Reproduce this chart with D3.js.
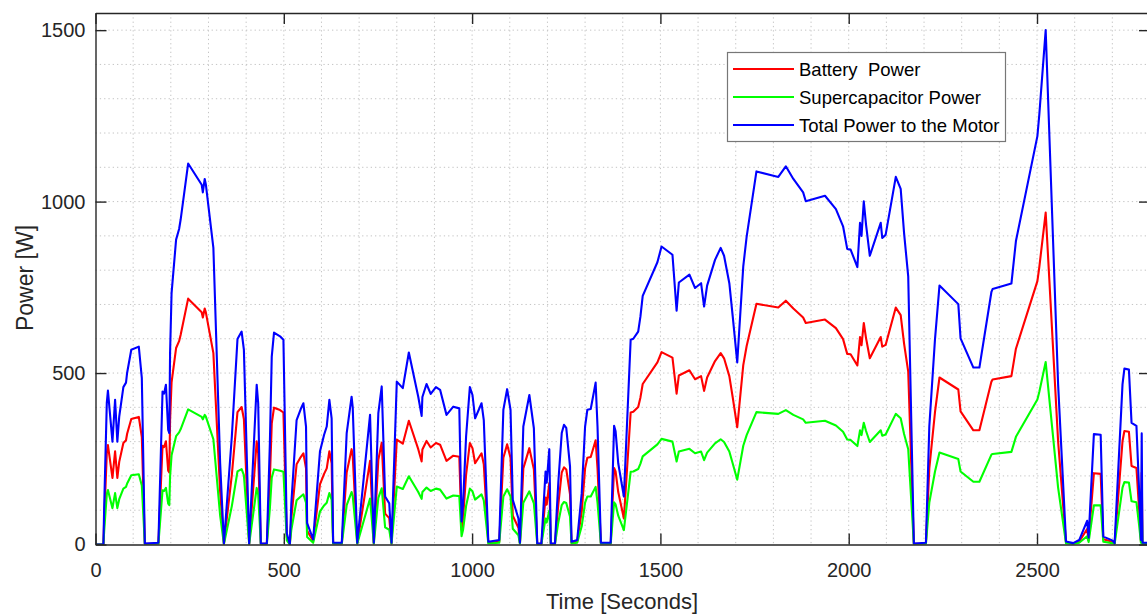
<!DOCTYPE html>
<html>
<head>
<meta charset="utf-8">
<script src="https://cdn.jsdelivr.net/npm/d3@7"></script>
<style>
  body { margin: 0; background: #fff; }
  text { font-family: "Liberation Sans", Arial, sans-serif; }
</style>
</head>
<body>
<div id="chart"></div>
<script>
// time samples (seconds) shared by all three curves
var timeSec = [0, 21, 23, 30, 33, 45, 52, 58, 63, 74, 81, 84, 95, 115, 123, 131, 167, 178, 182, 187,
  193, 196, 198, 202, 214, 222, 226, 246, 282, 285, 290, 293, 313, 331, 341, 362, 377, 388, 394, 408,
  428, 432, 439, 455, 463, 468, 474, 490, 499, 508, 516, 520, 534, 545, 552, 559, 562, 578, 596, 607,
  614, 621, 627, 631, 654, 667, 680, 683, 695, 729, 739, 751, 760, 769, 780, 786, 800, 816, 832, 857,
  866, 868, 879, 890, 904, 915, 932, 950, 966, 972, 976, 984, 994, 1001, 1008, 1025, 1031, 1043, 1072, 1083,
  1093, 1102, 1108, 1123, 1127, 1136, 1152, 1164, 1173, 1184, 1195, 1198, 1205, 1209, 1220, 1229, 1238, 1244, 1250, 1260,
  1264, 1279, 1291, 1300, 1306, 1315, 1328, 1333, 1342, 1368, 1377, 1381, 1388, 1403, 1421, 1428, 1441, 1447, 1453, 1492,
  1503, 1532, 1543, 1549, 1577, 1592, 1608, 1616, 1624, 1645, 1660, 1669, 1683, 1692, 1704, 1720, 1729, 1755, 1813, 1833,
  1853, 1879, 1886, 1937, 1966, 1985, 1996, 2005, 2023, 2030, 2034, 2040, 2046, 2056, 2085, 2089, 2098, 2125, 2138, 2147,
  2158, 2173, 2205, 2214, 2229, 2241, 2291, 2297, 2331, 2347, 2379, 2382, 2432, 2444, 2501, 2506, 2523, 2556, 2577, 2596,
  2612, 2633, 2637, 2651, 2669, 2676, 2700, 2706, 2727, 2732, 2744, 2751, 2764, 2771, 2776, 2778, 2780, 2800];

// total power to the motor (W)
var totalPower = [0, 0, 107, 413, 449, 300, 422, 300, 373, 459, 472, 501, 568, 577, 485, 3, 5, 446, 440, 466,
  334, 325, 558, 733, 889, 920, 947, 1111, 1049, 1027, 1066, 1050, 865, 237, 3, 315, 599, 621, 568, 3,
  466, 412, 3, 3, 295, 548, 618, 607, 597, 33, 0, 120, 363, 395, 412, 344, 62, 15, 271, 320,
  344, 422, 368, 5, 5, 325, 431, 400, 5, 378, 5, 383, 461, 140, 120, 5, 475, 456, 560, 431,
  375, 430, 468, 439, 459, 451, 378, 402, 397, 67, 120, 315, 459, 436, 368, 412, 363, 8, 13, 393,
  453, 393, 130, 76, 5, 344, 436, 339, 3, 3, 213, 180, 278, 3, 3, 183, 325, 349, 340, 227,
  8, 13, 149, 344, 393, 395, 472, 344, 5, 5, 346, 330, 237, 140, 597, 600, 621, 665, 725, 823,
  869, 845, 682, 764, 787, 748, 762, 694, 755, 830, 865, 842, 762, 665, 531, 811, 898, 1088, 1072, 1103,
  1066, 1027, 1001, 1017, 978, 928, 862, 860, 809, 938, 900, 1001, 933, 842, 938, 894, 903, 1072, 1037, 908,
  782, 3, 5, 344, 597, 755, 701, 601, 516, 516, 737, 745, 761, 885, 1191, 1253, 1500, 467, 9, 4,
  13, 69, 20, 322, 320, 23, 12, 4, 467, 513, 510, 355, 346, 161, 13, 324, 5, 5];

// battery power (W)
var batteryPower = [0, 0, 69, 266, 290, 194, 272, 194, 241, 296, 304, 323, 366, 372, 313, 2, 3, 288, 284, 301,
  215, 210, 360, 473, 573, 593, 611, 717, 677, 662, 688, 677, 558, 153, 2, 203, 386, 401, 366, 2,
  301, 266, 2, 2, 190, 353, 399, 392, 385, 21, 0, 77, 234, 255, 266, 222, 40, 10, 175, 206,
  222, 272, 237, 3, 3, 210, 278, 258, 3, 244, 3, 247, 297, 90, 77, 3, 306, 294, 361, 278,
  242, 277, 302, 283, 296, 291, 244, 259, 256, 43, 77, 203, 296, 281, 237, 266, 234, 5, 8, 253,
  292, 253, 84, 49, 3, 222, 281, 219, 2, 2, 137, 116, 179, 2, 2, 118, 210, 225, 219, 146,
  5, 8, 96, 222, 253, 255, 304, 222, 3, 3, 223, 213, 153, 76, 385, 387, 401, 429, 468, 531,
  561, 545, 440, 493, 508, 482, 491, 448, 487, 535, 558, 543, 491, 429, 342, 523, 579, 702, 691, 711,
  688, 662, 646, 656, 631, 599, 556, 555, 522, 605, 581, 646, 602, 543, 605, 577, 582, 691, 669, 586,
  504, 2, 3, 222, 385, 487, 452, 388, 333, 333, 475, 481, 491, 571, 768, 808, 968, 301, 6, 3,
  8, 45, 13, 208, 206, 15, 8, 3, 301, 331, 329, 229, 223, 104, 8, 209, 3, 3];

// supercapacitor power (W)
var supercapPower = [0, 0, 38, 147, 159, 106, 150, 106, 132, 163, 168, 178, 202, 205, 172, 1, 2, 158, 156, 165,
  119, 115, 198, 260, 316, 327, 336, 394, 372, 365, 378, 373, 307, 84, 1, 112, 213, 220, 202, 1,
  165, 146, 1, 1, 105, 195, 219, 215, 212, 12, 0, 43, 129, 140, 146, 122, 22, 5, 96, 114,
  122, 150, 131, 2, 2, 115, 153, 142, 2, 134, 2, 136, 164, 50, 43, 2, 169, 162, 199, 153,
  133, 153, 166, 156, 163, 160, 134, 143, 141, 24, 43, 112, 163, 155, 131, 146, 129, 3, 5, 140,
  161, 140, 46, 27, 2, 122, 155, 120, 1, 1, 76, 64, 99, 1, 1, 65, 115, 124, 121, 81,
  3, 5, 53, 122, 140, 140, 168, 122, 2, 2, 123, 117, 84, 42, 212, 213, 220, 236, 257, 292,
  308, 300, 242, 271, 279, 266, 271, 246, 268, 295, 307, 299, 271, 236, 189, 288, 319, 386, 381, 392,
  378, 365, 355, 361, 347, 329, 306, 305, 287, 333, 319, 355, 331, 299, 333, 317, 321, 381, 368, 322,
  278, 1, 2, 122, 212, 268, 249, 213, 183, 183, 262, 264, 270, 314, 423, 445, 532, 166, 3, 1,
  5, 24, 7, 114, 114, 8, 4, 1, 166, 182, 181, 126, 123, 57, 5, 115, 2, 2];

var xTicks = [0, 500, 1000, 1500, 2000, 2500];
var yTicks = [0, 500, 1000, 1500];
var seriesNames = ["Battery  Power", "Supercapacitor Power", "Total Power to the Motor"];
var seriesColors = ["#ff0000", "#00ff00", "#0000ff"];

var svgWidth = 1147;
var svgHeight = 615;

// plot box (right edge sits just past the window, like the original)
var margin = { top: 13, left: 95.5 };
var width = 1150 - margin.left;
var height = 544.5 - margin.top;

var svg = d3.select("#chart")
  .append("svg")
  .attr("width", svgWidth)
  .attr("height", svgHeight);

var chartGroup = svg.append("g")
  .attr("transform", `translate(${margin.left}, ${margin.top})`);

var xLinearScale = d3.scaleLinear().domain([0, 2800]).range([0, width]);
var yLinearScale = d3.scaleLinear().domain([0, 1550]).range([height, 0]);

// dotted grid every 100
var gridColor = "#c4c4c4";
chartGroup.append("g")
  .selectAll("line")
  .data(d3.range(100, 2800, 100))
  .enter()
  .append("line")
  .attr("x1", d => xLinearScale(d))
  .attr("x2", d => xLinearScale(d))
  .attr("y1", 0)
  .attr("y2", height)
  .attr("stroke", gridColor)
  .attr("stroke-width", 1)
  .attr("stroke-dasharray", "1.3,3");

chartGroup.append("g")
  .selectAll("line")
  .data(d3.range(100, 1550, 100))
  .enter()
  .append("line")
  .attr("x1", 0)
  .attr("x2", width)
  .attr("y1", d => yLinearScale(d))
  .attr("y2", d => yLinearScale(d))
  .attr("stroke", gridColor)
  .attr("stroke-width", 1)
  .attr("stroke-dasharray", "1.3,3");

// clip the curves to the box
svg.append("defs").append("clipPath")
  .attr("id", "plotClip")
  .append("rect")
  .attr("width", width)
  .attr("height", height);

var seriesData = [batteryPower, supercapPower, totalPower];

var line = d3.line()
  .x((d, i) => xLinearScale(timeSec[i]))
  .y(d => yLinearScale(d));

chartGroup.append("g")
  .attr("clip-path", "url(#plotClip)")
  .selectAll("path")
  .data(seriesData)
  .enter()
  .append("path")
  .attr("d", d => line(d))
  .attr("fill", "none")
  .attr("stroke", (d, i) => seriesColors[i])
  .attr("stroke-width", 2.1)
  .attr("stroke-linejoin", "round");

// axes, ticks inside on all four sides
var axisColor = "#262626";
var tickLen = 11;
var fmt = d3.format("d");

var bottomAxis = d3.axisBottom(xLinearScale).tickValues(xTicks).tickFormat(fmt).tickSize(-tickLen).tickSizeOuter(0);
var topAxis = d3.axisTop(xLinearScale).tickValues(xTicks).tickSize(-tickLen).tickFormat("").tickSizeOuter(0);
var leftAxis = d3.axisLeft(yLinearScale).tickValues(yTicks).tickFormat(fmt).tickSize(-tickLen).tickSizeOuter(0);
var rightAxis = d3.axisRight(yLinearScale).tickValues(yTicks).tickSize(-tickLen).tickFormat("").tickSizeOuter(0);

var xAxis = chartGroup.append("g")
  .attr("transform", `translate(0,${height})`)
  .call(bottomAxis);
chartGroup.append("g").call(topAxis);
var yAxis = chartGroup.append("g").call(leftAxis);
chartGroup.append("g").attr("transform", `translate(${width},0)`).call(rightAxis);

chartGroup.selectAll(".domain")
  .attr("stroke", axisColor)
  .attr("stroke-width", 1.4);
chartGroup.selectAll(".tick line")
  .attr("stroke", axisColor)
  .attr("stroke-width", 1.4);
chartGroup.selectAll(".tick text")
  .attr("fill", axisColor)
  .style("font-size", "20px")
  .style("font-family", "'Liberation Sans', Arial, sans-serif");
xAxis.selectAll(".tick text").attr("dy", "0.71em").attr("y", 18);
yAxis.selectAll(".tick text").attr("x", -10);

// axis titles
svg.append("text")
  .attr("x", 622)
  .attr("y", 609)
  .attr("text-anchor", "middle")
  .attr("fill", axisColor)
  .style("font-size", "22px")
  .text("Time [Seconds]");

svg.append("text")
  .attr("transform", "translate(33, 278) rotate(-90)")
  .attr("text-anchor", "middle")
  .attr("fill", axisColor)
  .style("font-size", "23px")
  .text("Power [W]");

// legend
var legendGroup = svg.append("g");

legendGroup.append("rect")
  .attr("x", 727.5)
  .attr("y", 52.5)
  .attr("width", 278)
  .attr("height", 89)
  .attr("fill", "#fff")
  .attr("stroke", "#777")
  .attr("stroke-width", 1.2);

seriesNames.forEach(function(name, i) {
  var yPos = 69 + i * 28;
  legendGroup.append("line")
    .attr("x1", 733)
    .attr("x2", 794)
    .attr("y1", yPos)
    .attr("y2", yPos)
    .attr("stroke", seriesColors[i])
    .attr("stroke-width", 2);
  legendGroup.append("text")
    .attr("x", 799)
    .attr("y", yPos + 7)
    .attr("fill", "#000")
    .style("font-size", "18.5px")
    .style("white-space", "pre")
    .text(name);
});
</script>
</body>
</html>
